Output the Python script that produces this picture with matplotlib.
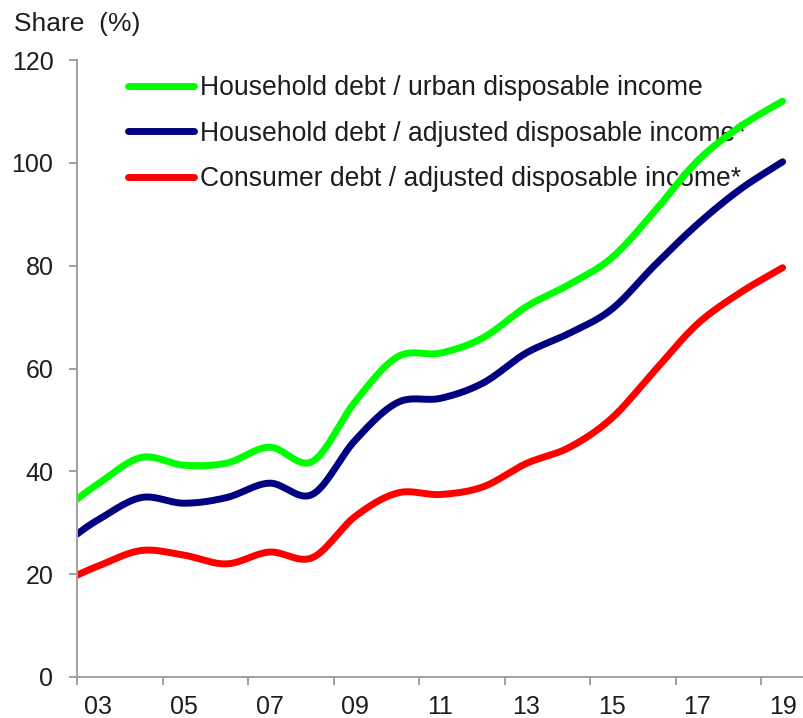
import matplotlib
matplotlib.use("Agg")
import matplotlib.pyplot as plt
import numpy as np

plt.rcParams['font.family'] = ['Liberation Sans', 'DejaVu Sans']

# data (x in years, first point sits on the axis)
years = [2002.5, 2003, 2004, 2005, 2006, 2007, 2008, 2009, 2010, 2011,
         2012, 2013, 2014, 2015, 2016, 2017, 2018, 2019]
hh_urban = [34.6, 37.6, 42.7, 41.2, 41.6, 44.7, 41.9, 53.5, 62.3, 63.0,
            66.0, 72.0, 76.3, 81.5, 90.5, 100.3, 107.0, 112.0]
hh_adjusted = [27.8, 30.6, 34.9, 33.8, 34.9, 37.7, 35.5, 46.0, 53.4, 54.2,
               57.2, 63.0, 66.8, 71.5, 80.0, 88.0, 94.8, 100.2]
consumer_adjusted = [19.8, 21.6, 24.6, 23.7, 22.0, 24.3, 23.2, 31.2, 35.8, 35.5,
                     37.0, 41.5, 44.6, 50.3, 59.5, 68.6, 74.7, 79.6]

labels = ["Household debt / urban disposable income",
          "Household debt / adjusted disposable income*",
          "Consumer debt / adjusted disposable income*"]
colors = ["#00ff00", "#000080", "#ff0000"]

tick_years = [2003, 2005, 2007, 2009, 2011, 2013, 2015, 2017, 2019]
tick_labels = ["03", "05", "07", "09", "11", "13", "15", "17", "19"]


def smooth(x, y, n=40):
    # bezier pieces like a spreadsheet "smoothed line"
    x = np.asarray(x, float)
    y = np.asarray(y, float)
    m = len(x)
    t = np.linspace(0, 1, n)
    xs, ys = [], []
    for i in range(m - 1):
        x0, y0, x3, y3 = x[i], y[i], x[i + 1], y[i + 1]
        xp, yp = (x[i - 1], y[i - 1]) if i > 0 else (x0, y0)
        xn, yn = (x[i + 2], y[i + 2]) if i + 2 < m else (x3, y3)
        x1, y1 = x0 + (x3 - xp) / 6, y0 + (y3 - yp) / 6
        x2, y2 = x3 - (xn - x0) / 6, y3 - (yn - y0) / 6
        b0, b1, b2, b3 = (1 - t) ** 3, 3 * (1 - t) ** 2 * t, 3 * (1 - t) * t ** 2, t ** 3
        xs.append(b0 * x0 + b1 * x1 + b2 * x2 + b3 * x3)
        ys.append(b0 * y0 + b1 * y1 + b2 * y2 + b3 * y3)
    return np.concatenate(xs), np.concatenate(ys)


fig = plt.figure(figsize=(8.04, 7.18), dpi=100)
ax = fig.add_axes([77 / 804, 41 / 718, 1 - 77 / 804, 617 / 718])

for series, lab, col in zip([hh_urban, hh_adjusted, consumer_adjusted], labels, colors):
    sx, sy = smooth(years, series)
    ax.plot(sx, sy, color=col, lw=5, label=lab, solid_capstyle='round', zorder=6)

ax.set_xlim(2002.5, 2019.5)
ax.set_ylim(0, 120)
ax.set_yticks(np.arange(0, 121, 20))
ax.set_xticks(tick_years)
ax.set_xticklabels(tick_labels)
ax.set_xticks(np.arange(2002.5, 2019, 2), minor=True)

grey = "#a0a0a0"
txt = "#1e1e1e"
for s in ["top", "right"]:
    ax.spines[s].set_visible(False)
for s in ["left", "bottom"]:
    ax.spines[s].set_color(grey)
    ax.spines[s].set_linewidth(1.4)
    ax.spines[s].set_zorder(7)

ax.tick_params(axis='x', which='major', length=0, pad=13, labelsize=18, labelcolor=txt)
ax.tick_params(axis='x', which='minor', length=6, width=1.4, color=grey)
ax.tick_params(axis='y', length=6, width=1.4, color=grey, pad=11, labelsize=18, labelcolor=txt)

leg = ax.legend(loc='upper left', bbox_to_anchor=(128 / 804, 1 - 75 / 718),
                bbox_transform=fig.transFigure, frameon=False, fontsize=19.1,
                handlelength=2.5, handletextpad=0.2, labelspacing=0.74,
                borderpad=0, borderaxespad=0)
leg.set_zorder(3)
for t in leg.get_texts():
    t.set_color(txt)
for h in leg.get_lines():
    h.set_solid_capstyle('round')

fig.text(14 / 804, 1 - 24 / 718, "Share  (%)", fontsize=19, color=txt, va='center', ha='left')

fig.savefig("out.png", dpi=100)
